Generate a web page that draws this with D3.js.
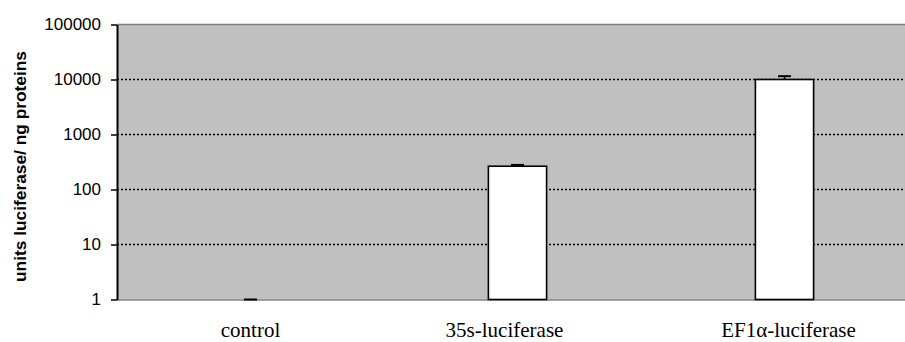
<!DOCTYPE html>
<html>
<head>
<meta charset="utf-8">
<script src="https://cdn.jsdelivr.net/npm/d3@7"></script>
<style>
  html, body { margin: 0; padding: 0; background: #fff; }
  svg { display: block; }
</style>
</head>
<body>
<svg id="chart" width="905" height="342"></svg>
<script>
// Luciferase activity per construct (log scale)
const categories = ["control", "35s-luciferase", "EF1\u03b1-luciferase"];
const means      = [1, 265, 10000];
const upperErr   = [1, 280, 11500];
const tickValues = [1, 10, 100, 1000, 10000, 100000];
const tickLabels = ["1", "10", "100", "1000", "10000", "100000"];
const gridValues = [10, 100, 1000, 10000];
const yTitle = "units luciferase/ ng proteins";

const svg = d3.select("#chart");
const W = 905, H = 342;
const plot = { left: 117, right: 918, top: 24.5, bottom: 299.5 };

const x = d3.scaleBand().domain(categories).range([plot.left, plot.right]).padding(0);
const y = d3.scaleLog().domain([1, 100000]).range([plot.bottom, plot.top]);

const clip = svg.append("defs").append("clipPath").attr("id", "view");
clip.append("rect").attr("x", 0).attr("y", 0).attr("width", W).attr("height", H);
const g = svg.append("g").attr("clip-path", "url(#view)");

// plot background
g.append("rect")
  .attr("x", plot.left).attr("y", plot.top)
  .attr("width", plot.right - plot.left).attr("height", plot.bottom - plot.top)
  .attr("fill", "#c0c0c0");

// plot frame top and bottom (grey)
g.append("line").attr("x1", plot.left).attr("x2", plot.right)
  .attr("y1", plot.top).attr("y2", plot.top)
  .attr("stroke", "#808080").attr("stroke-width", 1.5);
g.append("line").attr("x1", plot.left).attr("x2", plot.right)
  .attr("y1", plot.bottom + 0.5).attr("y2", plot.bottom + 0.5)
  .attr("stroke", "#808080").attr("stroke-width", 1.5);

// dotted gridlines
g.selectAll("line.grid").data(gridValues).join("line")
  .attr("class", "grid")
  .attr("x1", plot.left).attr("x2", plot.right)
  .attr("y1", d => y(d)).attr("y2", d => y(d))
  .attr("stroke", "#000").attr("stroke-width", 1.5)
  .attr("stroke-dasharray", "2,2");

// bars
const barW = x.bandwidth() * 0.218;
g.selectAll("rect.bar").data(categories).join("rect")
  .attr("class", "bar")
  .attr("x", d => x(d) + x.bandwidth() / 2 - barW / 2)
  .attr("y", (d, i) => y(means[i]))
  .attr("width", barW)
  .attr("height", (d, i) => y(1) - y(means[i]))
  .attr("fill", "#fff")
  .attr("stroke", "#000")
  .attr("stroke-width", 1.6)
  .attr("display", (d, i) => means[i] > 1 ? null : "none");

// error bars (upper)
const capW = 13;
categories.forEach((c, i) => {
  const cx = x(c) + x.bandwidth() / 2;
  g.append("line")
    .attr("x1", cx).attr("x2", cx)
    .attr("y1", y(means[i])).attr("y2", y(upperErr[i]))
    .attr("stroke", "#000").attr("stroke-width", 1.5);
  g.append("line")
    .attr("x1", cx - capW / 2).attr("x2", cx + capW / 2)
    .attr("y1", y(upperErr[i])).attr("y2", y(upperErr[i]))
    .attr("stroke", "#000").attr("stroke-width", 2);
});

// y axis
const yAxis = d3.axisLeft(y)
  .tickValues(tickValues)
  .tickFormat((d, i) => tickLabels[i])
  .tickSizeInner(6).tickSizeOuter(0).tickPadding(10);
const ya = svg.append("g").attr("transform", `translate(${plot.left},0)`).call(yAxis);
ya.select(".domain").attr("stroke", "#000").attr("stroke-width", 2);
ya.selectAll(".tick line").attr("stroke", "#000").attr("stroke-width", 1.5);
ya.selectAll(".tick text")
  .attr("font-family", "Liberation Sans, Arial, sans-serif")
  .attr("font-size", 17)
  .attr("fill", "#000");

// x category labels
const labelShift = [0, -13, 4];
svg.append("g").selectAll("text").data(categories).join("text")
  .attr("x", (d, i) => x(d) + x.bandwidth() / 2 + labelShift[i])
  .attr("y", 337)
  .attr("text-anchor", "middle")
  .attr("font-family", "Liberation Serif, Times New Roman, serif")
  .attr("font-size", 21)
  .attr("fill", "#000")
  .text(d => d);

// y title
svg.append("text")
  .attr("transform", `translate(25.5,166.5) rotate(-90)`)
  .attr("text-anchor", "middle")
  .attr("font-family", "Liberation Sans, Arial, sans-serif")
  .attr("font-weight", "bold")
  .attr("font-size", 17)
  .attr("textLength", 231)
  .attr("lengthAdjust", "spacingAndGlyphs")
  .attr("fill", "#000")
  .text(yTitle);
</script>
</body>
</html>
